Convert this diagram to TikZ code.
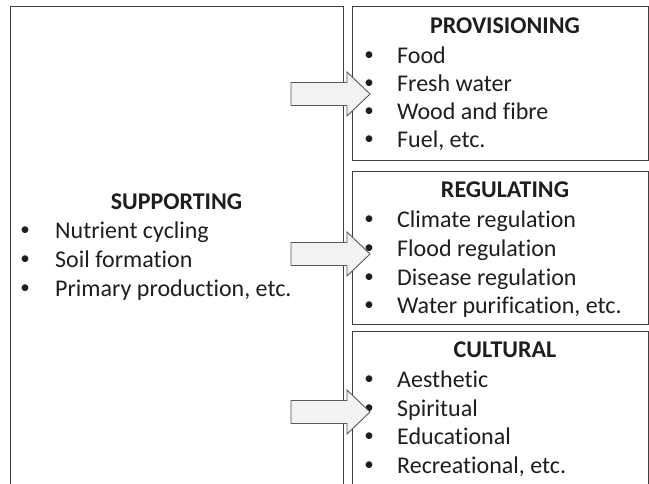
\documentclass[tikz,border=0pt]{standalone}
\usepackage{fontspec}
\setmainfont{Carlito}[Ligatures=NoCommon]
\definecolor{boxgray}{HTML}{404040}
\definecolor{arrowgray}{HTML}{595959}
\definecolor{arrowfill}{HTML}{F2F2F2}
\definecolor{txt}{HTML}{1E1E1E}
\begin{document}
\begin{tikzpicture}[x=1pt,y=-1pt,
  box/.style={draw=boxgray, line width=1.3pt, inner sep=0, anchor=north west},
  bigarrow/.style={draw=arrowgray, fill=arrowfill, line width=0.9pt, line join=miter},
  ttl/.style={font=\bfseries\fontsize{24}{29}\selectfont, anchor=base, text=txt, inner sep=0},
  itm/.style={font=\fontsize{24}{29}\selectfont, anchor=base west, text=txt, inner sep=0},
  bul/.style={font=\fontsize{19}{22}\selectfont, anchor=center, text=txt, inner sep=0}]
\useasboundingbox (0,0) rectangle (649,483);
\clip (0,0) rectangle (649,483);
% boxes
\node[box, minimum width=333pt, minimum height=500pt] (sup) at (10,6) {};
\node[box, minimum width=296pt, minimum height=153.5pt] (prov) at (352,6) {};
\node[box, minimum width=296pt, minimum height=153.3pt] (reg) at (352,170.7) {};
\node[box, minimum width=296pt, minimum height=170pt] (cul) at (352,331) {};
% supporting text
\node[ttl] (supt) at (176.5,209) {SUPPORTING};
\node[bul] (sb1) at (25,238-6.5) {•};
\node[itm] (si1) at (55,238) {Nutrient cycling};
\node[bul] (sb2) at (25,267-6.5) {•};
\node[itm] (si2) at (55,267) {Soil formation};
\node[bul] (sb3) at (25,296-6.5) {•};
\node[itm] (si3) at (55,296) {Primary production, etc.};
% provisioning text
\node[ttl] (provt) at (505,33) {PROVISIONING};
\node[bul] (pb1) at (369,63-6.5) {•};
\node[itm] (pi1) at (397,63) {Food};
\node[bul] (pb2) at (369,91-6.5) {•};
\node[itm] (pi2) at (397,91) {Fresh water};
\node[bul] (pb3) at (369,119-6.5) {•};
\node[itm] (pi3) at (397,119) {Wood and fibre};
\node[bul] (pb4) at (369,147-6.5) {•};
\node[itm] (pi4) at (397,147) {Fuel, etc.};
% regulating text
\node[ttl] (regt) at (505,197) {REGULATING};
\node[bul] (rb1) at (369,227-6.5) {•};
\node[itm] (ri1) at (397,227) {Climate regulation};
\node[bul] (rb2) at (369,256-6.5) {•};
\node[itm] (ri2) at (397,256) {Flood regulation};
\node[bul] (rb3) at (369,285-6.5) {•};
\node[itm] (ri3) at (397,285) {Disease regulation};
\node[bul] (rb4) at (369,313-6.5) {•};
\node[itm] (ri4) at (397,313) {Water purification, etc.};
% cultural text
\node[ttl] (cult) at (505,357) {CULTURAL};
\node[bul] (cb1) at (369,387-6.5) {•};
\node[itm] (ci1) at (397,387) {Aesthetic};
\node[bul] (cb2) at (369,416-6.5) {•};
\node[itm] (ci2) at (397,416) {Spiritual};
\node[bul] (cb3) at (369,444-6.5) {•};
\node[itm] (ci3) at (397,444) {Educational};
\node[bul] (cb4) at (369,473-6.5) {•};
\node[itm] (ci4) at (397,473) {Recreational, etc.};
% block arrows
\foreach \cy in {94,254,412}{
  \draw[bigarrow] (291,\cy-11.5) -- (347,\cy-11.5) -- (347,\cy-22) -- (370,\cy)
     -- (347,\cy+22) -- (347,\cy+11.5) -- (291,\cy+11.5) -- cycle;
}
\end{tikzpicture}
\end{document}
